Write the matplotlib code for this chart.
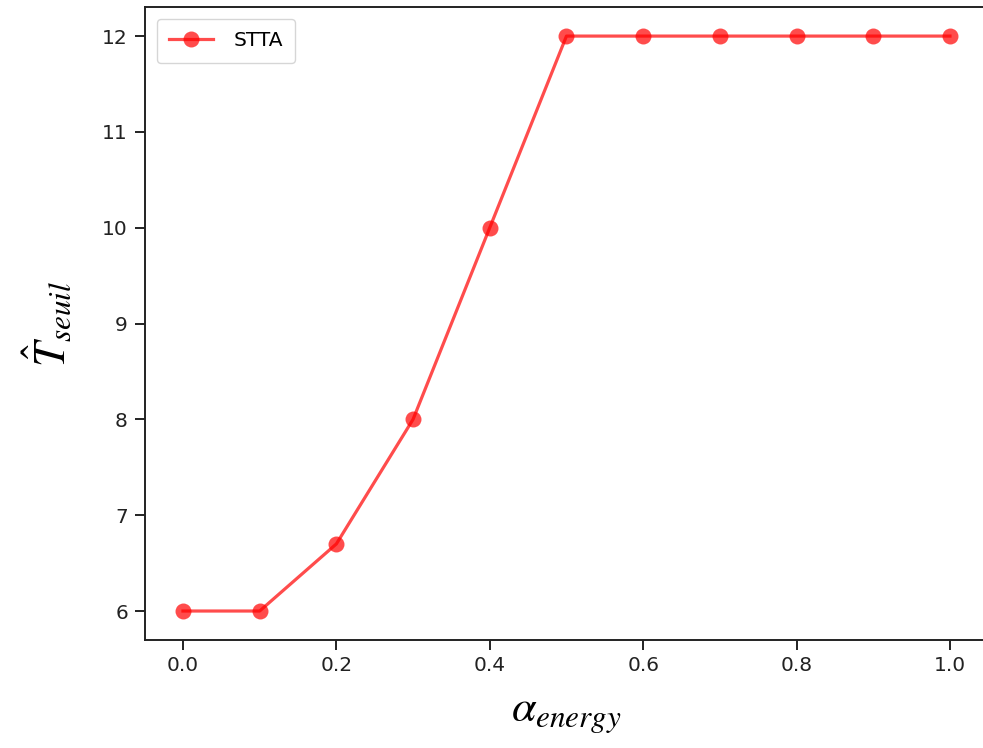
import matplotlib
matplotlib.use("Agg")
import matplotlib.pyplot as plt

alpha_energy = [0.0, 0.1, 0.2, 0.3, 0.4, 0.5, 0.6, 0.7, 0.8, 0.9, 1.0]
t_seuil = [6, 6, 6.7, 8, 10, 12, 12, 12, 12, 12, 12]
series_name = "STTA"

plt.rcParams['mathtext.fontset'] = 'stix'
fig = plt.figure(figsize=(9.83, 7.48), dpi=100)
ax = fig.add_axes([0.1471, 0.1447, 0.8583, 0.8455])
ax.plot(alpha_energy, t_seuil, '-o', color='red', alpha=0.7, lw=2.3, ms=11.5, mew=0, label=series_name)
ax.set_xticks([0.0, 0.2, 0.4, 0.6, 0.8, 1.0])
ax.set_yticks([6, 7, 8, 9, 10, 11, 12])
ax.tick_params(labelsize=14.5, width=1.4, length=7, colors='#222222', pad=5)
for s in ax.spines.values():
    s.set_linewidth(1.4)
    s.set_color('#222222')
ax.set_xlabel(r'$\alpha_{energy}$', fontsize=32, labelpad=12)
ax.set_ylabel(r'$\hat{T}_{seuil}$', fontsize=32, labelpad=20)
ax.legend(loc='upper left', fontsize=14.5, borderpad=0.6, handlelength=2.2, handletextpad=1.0,
          borderaxespad=0.6)
fig.savefig('out.png', dpi=100)
